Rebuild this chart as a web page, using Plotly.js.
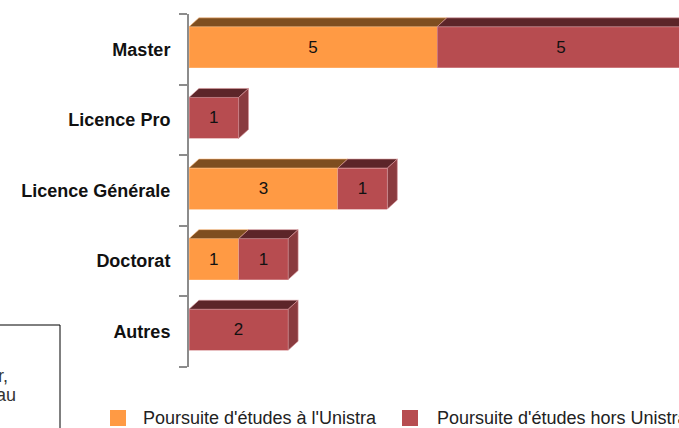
<!DOCTYPE html>
<html>
<head>
<meta charset="utf-8">
<script src="https://cdn.plot.ly/plotly-3.0.1.min.js"></script>
<style>html,body{margin:0;padding:0;background:#fff;}#chart{width:679px;height:428px;}</style>
</head>
<body>
<div id="chart"></div>
<script>
// ---- data ----
const categories = ['Master', 'Licence Pro', 'Licence Générale', 'Doctorat', 'Autres'];
const unistra = [5, 0, 3, 1, 0];
const horsUnistra = [5, 1, 1, 1, 2];
const seriesNames = ["Poursuite d'études à l'Unistra", "Poursuite d'études hors Unistra"];
const boxLines = ['r,', 'au'];

// ---- styles ----
const font = 'Liberation Sans, Arial, sans-serif';
const colFront = ['#FF9A44', '#B74C50'];
const colTop = ['#7E4E20', '#5C2529'];
const colSide = ['#A0602A', '#8A3B3F'];
const colEdge = ['#FFB878', '#D9969A'];
const W = 0.58, OFF = -0.318;   // bar thickness / offset (category units)
const DX = 0.2, DY = 0.1275;    // 3D depth (x units, category units)

const pos = categories.map((c, i) => i);
const series = [unistra, horsUnistra];

const traces = series.map((vals, s) => ({
  type: 'bar', orientation: 'h', name: seriesNames[s],
  x: vals, y: pos, width: W, offset: OFF,
  marker: {color: colFront[s], line: {color: colEdge[s], width: 0.6}},
  text: vals.map(v => v ? String(v) : ''),
  textposition: 'inside', insidetextanchor: 'middle',
  insidetextfont: {family: font, size: 17, color: '#111'},
  textangle: 0, hoverinfo: 'x+y', showlegend: false
}));

// 3D faces built from the data
const shapes = [];
pos.forEach(i => {
  let cum = 0;
  const top = i + OFF, bot = i + OFF + W;
  let last = null;
  series.forEach((vals, s) => {
    const v = vals[i];
    if (!v) return;
    const x0 = cum, x1 = cum + v;
    shapes.push({type: 'path', xref: 'x', yref: 'y', layer: 'above',
      path: `M ${x0},${top} L ${x0 + DX},${top - DY} L ${x1 + DX},${top - DY} L ${x1},${top} Z`,
      fillcolor: colTop[s], line: {color: colEdge[s], width: 0.6}});
    last = {x1: x1, s: s};
    cum = x1;
  });
  if (last) {
    shapes.push({type: 'path', xref: 'x', yref: 'y', layer: 'above',
      path: `M ${last.x1},${top} L ${last.x1 + DX},${top - DY} L ${last.x1 + DX},${bot - DY} L ${last.x1},${bot} Z`,
      fillcolor: colSide[last.s], line: {color: colEdge[last.s], width: 0.6}});
  }
});

// pixel -> paper helpers (plot area 189..679 x 14..367)
const L = 189, T = 14, PW = 490, PH = 353;
const px = x => (x - L) / PW;
const py = y => (T + PH - y) / PH;

// legend (manual)
const legX = [[110, 143], [402, 437]];
const annotations = [];
seriesNames.forEach((n, s) => {
  shapes.push({type: 'rect', xref: 'paper', yref: 'paper',
    x0: px(legX[s][0]), x1: px(legX[s][0] + 16), y0: py(410), y1: py(426),
    fillcolor: colFront[s], line: {width: 0}});
  annotations.push({xref: 'paper', yref: 'paper', x: px(legX[s][1] - 2), y: py(418),
    xanchor: 'left', yanchor: 'middle', showarrow: false, text: n,
    font: {family: font, size: 18, color: '#222'}});
});

// partial box at lower left
shapes.push({type: 'rect', xref: 'paper', yref: 'paper',
  x0: px(-5), x1: px(60), y0: py(440), y1: py(325),
  fillcolor: 'rgba(0,0,0,0)', line: {color: '#000', width: 1}});
const boxRight = [10, 18], boxY = [376, 395];
boxLines.forEach((t, k) => annotations.push({xref: 'paper', yref: 'paper',
  x: px(boxRight[k]), y: py(boxY[k]), xanchor: 'right', yanchor: 'middle',
  showarrow: false, text: t, font: {family: font, size: 18, color: '#333'}}));

const layout = {
  width: 679, height: 428,
  margin: {l: L, r: 0, t: T, b: 428 - T - PH, pad: 0},
  paper_bgcolor: '#fff', plot_bgcolor: '#fff',
  barmode: 'stack', showlegend: false,
  xaxis: {range: [0, PW / 49.6], visible: false, fixedrange: true},
  yaxis: {range: [4.5, -0.5], tickmode: 'array', tickvals: pos, ticktext: categories,
    ticks: '', ticklabelstandoff: 13, showgrid: false, zeroline: false,
    showline: true, linecolor: '#8C8C8C', linewidth: 2,
    tickfont: {family: font, size: 18, color: '#111', weight: 'bold'},
    minor: {tickmode: 'array', tickvals: [-0.5, 0.5, 1.5, 2.5, 3.5, 4.5],
      ticks: 'outside', ticklen: 8, tickwidth: 2, tickcolor: '#8C8C8C', showgrid: false}},
  shapes: shapes, annotations: annotations
};

Plotly.newPlot('chart', traces, layout, {displayModeBar: false, staticPlot: true});
</script>
</body>
</html>
